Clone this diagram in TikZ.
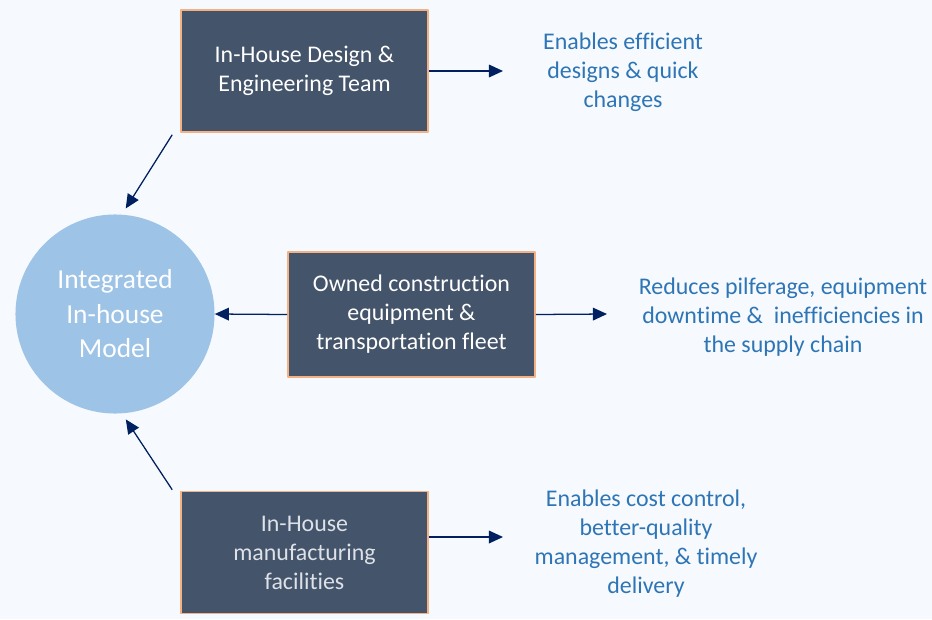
\documentclass[tikz,border=0pt]{standalone}
\usepackage{fontspec}
\setmainfont[Ligatures=NoCommon]{Carlito}
\usetikzlibrary{arrows.meta}
\definecolor{pagebg}{RGB}{246,249,253}
\definecolor{boxfill}{RGB}{68,84,106}
\definecolor{boxedge}{RGB}{244,177,131}
\definecolor{hubfill}{RGB}{157,195,230}
\definecolor{notetext}{RGB}{46,117,182}
\definecolor{linkcol}{RGB}{0,32,96}
\definecolor{lighttext}{RGB}{222,226,232}
\begin{document}
\begin{tikzpicture}[x=0.025cm,y=-0.025cm, line join=round, font=\fontsize{17}{20.6}\selectfont,
    >={Triangle[length=10pt,width=9pt]},
    unit/.style={draw=boxedge, line width=1.1pt, fill=boxfill, text=white, align=center,
      minimum width=6.175cm, minimum height=3.05cm, inner sep=0pt},
    note/.style={text=notetext, align=center, inner sep=0pt},
    link/.style={->, draw=linkcol, fill=linkcol, line width=0.9pt}]
    \fill[pagebg] (0,0) rectangle (932,619);
    % hub
    \node[circle, fill=hubfill, text=white, align=center, minimum size=4.975cm, inner sep=0pt,
      font=\fontsize{19.5}{24.5}\selectfont] (hub) at (115,314) {Integrated\\In-house\\Model};
    % boxes
    \node[unit] (design) at (304.5,71) {In-House Design \&\\Engineering Team};
    \node[unit, minimum height=3.125cm] (fleet) at (411.5,314.5) {Owned construction\\equipment \&\\transportation fleet};
    \node[unit, text=lighttext] (plant) at (304.5,552.5) {In-House\\manufacturing\\facilities};
    % notes
    \node[note] (designnote) at (623,72) {Enables efficient\\designs \& quick\\changes};
    \node[note] (fleetnote) at (783,317) {Reduces pilferage, equipment\\downtime \&~~inefficiencies in\\the supply chain};
    \node[note] (plantnote) at (646,543.5) {Enables cost control,\\better-quality\\management, \& timely\\delivery};
    \coordinate (designend) at (503,71);
    \coordinate (fleetend) at (607,314);
    \coordinate (plantend) at (503,537);
    % connectors
    \draw[link] (design.east) -- (designend);
    \draw[link] (fleet.east) -- (fleetend);
    \draw[link] ([shift={(0,-15.5)}]plant.east) -- (plantend);
    \draw[link] (fleet.west) -- (hub.east);
    \draw[link, shorten >=5pt] ([shift={(-8,2)}]design.south west) -- (hub.86);
    \draw[link, shorten >=5pt] ([shift={(-8,-1)}]plant.north west) -- (hub.274);
\end{tikzpicture}
\end{document}
